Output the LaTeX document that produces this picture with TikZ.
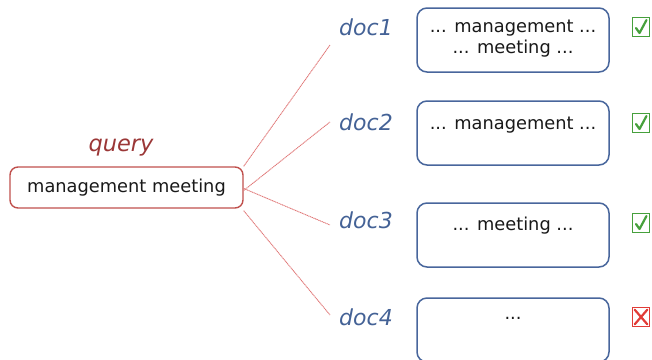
\documentclass[tikz,border=0pt]{standalone}
\usepackage{fontspec}
\setmainfont{DejaVu Sans}
\usetikzlibrary{calc}
\definecolor{qred}{RGB}{192,80,77}
\definecolor{qlabel}{RGB}{155,55,55}
\definecolor{linkred}{RGB}{224,120,120}
\definecolor{dblue}{RGB}{72,102,156}
\definecolor{dlabel}{RGB}{68,98,150}
\definecolor{okgreen}{RGB}{70,160,60}
\definecolor{badred}{RGB}{225,60,55}
\tikzset{
  boxtext/.style={font=\fontsize{17.8}{21}\selectfont, text=black!90, anchor=base, inner sep=0pt, align=center},
  querybox/.style={draw=qred, line width=1.4pt, rounded corners=8pt, minimum width=233pt, minimum height=41pt, inner sep=0pt, font=\fontsize{17.8}{21}\selectfont, text=black!90},
  docbox/.style={draw=dblue, line width=1.5pt, rounded corners=10pt, minimum width=192pt, minimum height=64pt, inner sep=0pt},
  doclabel/.style={font=\fontsize{22}{26}\selectfont\itshape, text=dlabel, anchor=base, inner sep=1pt},
  querylabel/.style={font=\fontsize{22.5}{26}\selectfont\itshape, text=qlabel, anchor=base, inner sep=1pt},
  link/.style={draw=linkred, line width=0.9pt, dash pattern=on 1.2pt off 0.6pt},
  chkbox/.style={minimum width=17pt, minimum height=19pt, inner sep=0pt, line width=1.5pt},
  markstroke/.style={line width=2.2pt, line cap=round, line join=round}
}
\begin{document}
\begin{tikzpicture}[x=1pt, y=-1pt]
\useasboundingbox (0,0) rectangle (652,359);

% query
\node[querylabel] (ql) at (121,151) {query};
\node[querybox] (q) at (126.5,187.5) {management meeting};

% documents
\node[doclabel] (d1) at (366,35) {doc1};
\node[doclabel] (d2) at (366,130) {doc2};
\node[doclabel] (d3) at (366,228) {doc3};
\node[doclabel] (d4) at (366,325) {doc4};

\node[docbox] (b1) at (513,40) {};
\node[docbox] (b2) at (513,133) {};
\node[docbox] (b3) at (513,235) {};
\node[docbox] (b4) at (513,330) {};

% the base anchor of a two-line text sits on its last line
\node[boxtext] (t1) at (513,53) {... management ...\\... meeting ...};
\node[boxtext] (t2) at (513,129) {... management ...};
\node[boxtext] (t3) at (513,230) {... meeting ...};
\node[boxtext] (t4) at (513,319) {...};

% connector ends next to the labels
\coordinate (e1) at (330,45);
\coordinate (e2) at (330,122);
\coordinate (e3) at (330,225);
\coordinate (e4) at (330,315);

\draw[link] (q.north east) -- (e1);
\draw[link] ([yshift=-3pt]q.east) -- (e2);
\draw[link] ([yshift=-1pt]q.east) -- (e3);
\draw[link] ([yshift=-2pt]q.south east) -- (e4);

% relevance marks
\node[chkbox, draw=okgreen] (k1) at (641,27) {};
\node[chkbox, draw=okgreen] (k2) at (641,123) {};
\node[chkbox, draw=okgreen] (k3) at (641,223) {};
\node[chkbox, draw=badred] (k4) at (641,317) {};

\foreach \k in {k1,k2,k3}{
  \draw[markstroke, draw=okgreen] ($(\k)+(-5,1)$) -- ($(\k)+(-1.5,6)$) -- ($(\k)+(5.5,-7)$);
}
\draw[markstroke, draw=badred] ($(k4.north west)+(3,3)$) -- ($(k4.south east)+(-3,-3)$);
\draw[markstroke, draw=badred] ($(k4.south west)+(3,-3)$) -- ($(k4.north east)+(-3,3)$);
\end{tikzpicture}
\end{document}
